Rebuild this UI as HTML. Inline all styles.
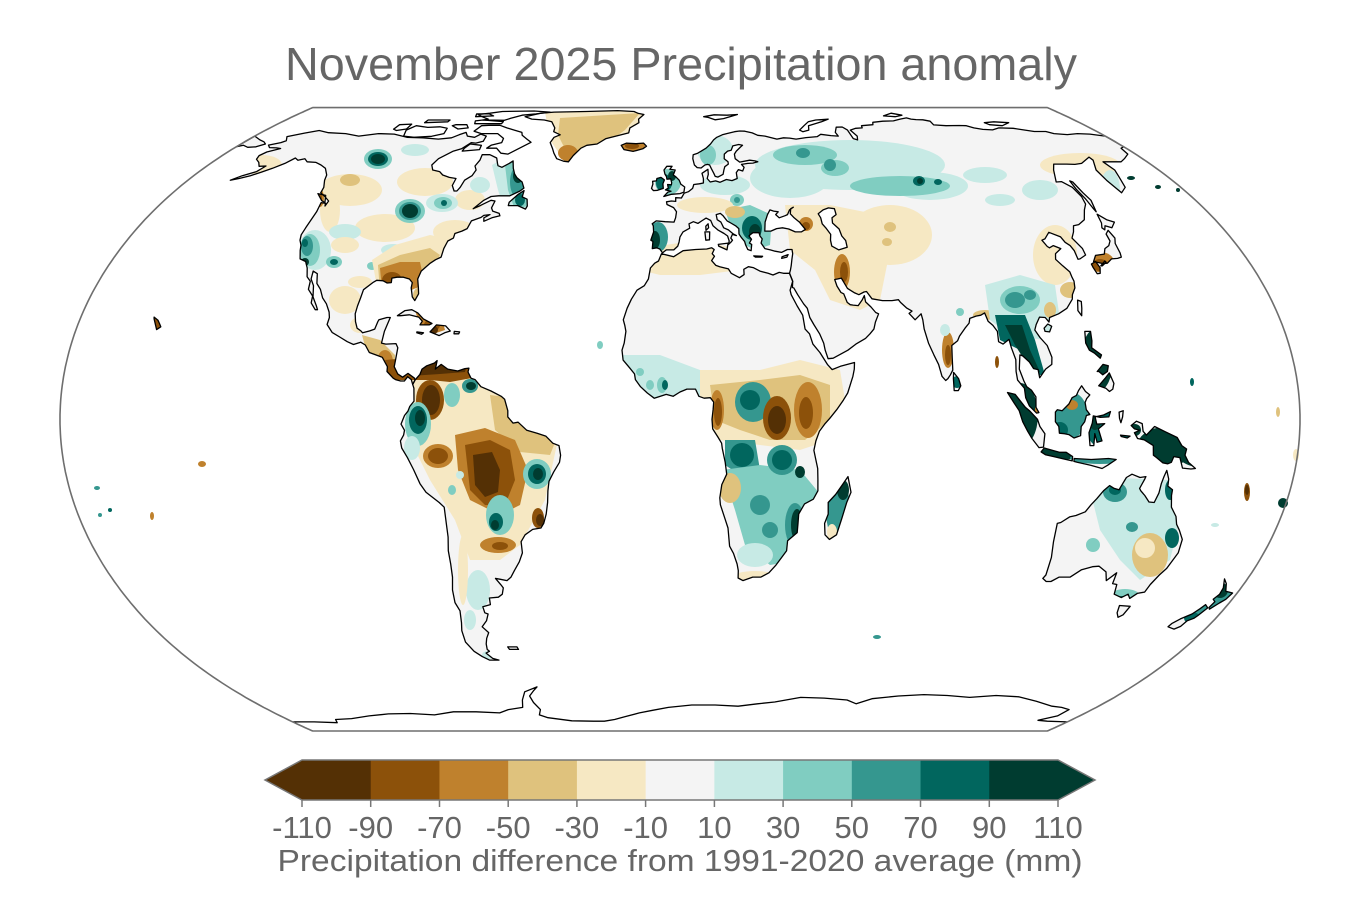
<!DOCTYPE html>
<html><head><meta charset="utf-8">
<style>
html,body{margin:0;padding:0;background:#fff}
svg{display:block}
text{font-family:"Liberation Sans",Arial,sans-serif;fill:#666}
</style></head>
<body>
<svg id="m" xmlns="http://www.w3.org/2000/svg" width="1360" height="900" viewBox="0 0 1360 900">
<defs><clipPath id="lc"></clipPath></defs>
<rect x="0" y="0" width="1360" height="900" fill="#fff"/>
<text x="681" y="80" font-size="46" text-anchor="middle" textLength="792" lengthAdjust="spacingAndGlyphs">November 2025 Precipitation anomaly</text>
<g id="landfill"></g>
<g id="blobs" clip-path="url(#lc)"></g>
<g id="free"></g>
<g id="water"></g>
<g id="coast" fill="none" stroke="#000" stroke-width="1.3" stroke-linejoin="round"></g>
<path id="frame" fill="none" stroke="#6e6e6e" stroke-width="1.6"/>

<!-- colorbar -->
<g id="cbar">
<polygon points="302,760 265,780 302,800" fill="#543005"/>
<polygon points="1058,760 1095,780 1058,800" fill="#003c30"/>
</g>
<g id="cbt"></g>
<text x="680" y="871" font-size="31" text-anchor="middle" textLength="805" lengthAdjust="spacingAndGlyphs">Precipitation difference from 1991-2020 average (mm)</text>
</svg>
<script>
(function(){
var NS='http://www.w3.org/2000/svg';
var A1=1.340264,A2=-0.081106,A3=0.000893,A4=0.003796,M=Math.sqrt(3)/2,K=2*Math.sqrt(3)/3;
var SX=229.07,SY=236.6,CX=680,CY=419.3;
function P(lon,lat){var l=lon*Math.PI/180,t=Math.asin(M*Math.sin(lat*Math.PI/180)),t2=t*t,t6=t2*t2*t2;
var y=t*(A1+A2*t2+t6*(A3+A4*t2));var x=K*l*Math.cos(t)/(A1+3*A2*t2+t6*(7*A3+9*A4*t2));
return [CX+SX*x,CY-SY*y];}
function d(a,close){var s='';for(var i=0;i+1<a.length;i+=2){var p=P(a[i],a[i+1]);s+=(i?'L':'M')+p[0].toFixed(1)+','+p[1].toFixed(1);}return s+(close===false?'':'Z');}
function el(tag,attrs,parent){var e=document.createElementNS(NS,tag);for(var k in attrs)e.setAttribute(k,attrs[k]);parent.appendChild(e);return e;}
var G='#f4f4f4',W='#ffffff';
var LAND=[
[G,[-166,68.8,-161,70.2,-156.5,71.3,-151,70.4,-143,70,-136,69,-129,70,-122,69.8,-115,68.5,-108,68.3,-101,67.8,-96,68.3,-94,69.5,-92,70.5,-90,69,-86.5,68.5,-85,69.8,-82,69,-81.5,67,-84,66.3,-86,66.5,-88,64.3,-90.5,63.5,-94,61,-94.7,59,-93,57.5,-90,57,-88,56,-85,55.3,-82.3,55,-82.2,53,-80.5,51.5,-79.5,51.5,-79,52.5,-78.8,54.5,-77,55.8,-76.7,57.5,-78,58.7,-77.5,60.5,-78,62.3,-75,62.3,-71.5,61.2,-70,59.5,-69.3,58.8,-67.5,58.3,-65.5,59.5,-64.5,60.3,-63,58,-61.5,56.3,-60,55.2,-57.5,54,-56,52.3,-57,51.5,-60,50.2,-64,50.2,-66.5,50,-68.5,49,-71,46.8,-69,47.6,-66,49,-64.5,48.8,-64.8,47,-64,46.2,-61.5,45.6,-61,45,-63.5,44.5,-65.8,43.6,-66.2,44.5,-64.5,45.3,-66.5,45.1,-67.2,44.6,-70,43.7,-70.5,41.8,-72,41.2,-74,40.6,-74,39.5,-75.5,38.8,-76,37,-76,35,-77.5,34.4,-79,33.5,-81,31.8,-81.4,30,-80.5,28,-80,26.7,-80.7,25.2,-81.7,26,-82.7,28,-82.8,29.2,-84,30,-86,30.4,-88,30.4,-89.5,30.2,-89.3,29.2,-90.5,29.1,-92,29.6,-94,29.7,-95,29.2,-97.2,27.6,-97.4,25.8,-97.7,24,-97.8,22.3,-97.2,20.6,-96.3,19.2,-95,18.6,-94.4,18.2,-92.5,18.6,-91,19,-90.5,20.6,-90.3,21,-88,21.5,-87,21.5,-87.5,20,-88,18.5,-88.3,16,-87,15.8,-84,15.9,-83.3,15,-83.5,12.5,-83.7,11,-82.5,9.5,-81,8.8,-79.5,9.6,-77.5,8.6,-77.3,8.2,-77.9,7.3,-78.4,8.3,-79.5,8.9,-80.4,8,-81.5,8,-83,8.3,-83.7,8.6,-85.7,10,-85.7,11,-87.5,13,-89.5,13.5,-91.5,14,-93,15.6,-94.5,16.2,-96.5,15.7,-98.5,16.3,-101,17.3,-103.5,18.3,-105.5,20,-105.3,21.5,-105.8,22.7,-107.3,24.5,-109,25.8,-110.5,27.7,-112.2,29,-113.2,31.2,-114.8,31.8,-114.5,30,-113,28.5,-112,26,-110.3,24.2,-109.5,23.2,-110.2,23.2,-112,24.7,-112.2,26.2,-114.2,27.7,-114.5,29.5,-116,30.5,-117.1,32.5,-118.5,34,-120.6,34.6,-121.9,36.6,-122.5,37.8,-123.7,39,-124.3,40.3,-124.2,42,-124,46,-124.7,48.4,-123,48.2,-122.5,47.5,-122.5,48.8,-125,50,-127.5,51,-128,52.5,-130,54.5,-131,56,-134,58,-137,59,-140,59.8,-143.7,60,-146,61,-148,60.5,-150,61.2,-151.5,59.5,-154,58,-156.5,56.8,-159,55.8,-162,55,-164.5,54.5,-162,55.8,-158.5,57,-157.5,58.7,-160,58.6,-162,59.8,-164.5,60.8,-165.5,62,-164.5,63.2,-161,64.4,-163,64.6,-166,64.7,-168,65.6,-164.5,66.5,-163.5,67.2]],
[G,[-59.3,47.6,-56,47.6,-53,46.7,-52.7,47.5,-53.5,49.3,-55.5,49.9,-55.6,51.6,-57.2,50.6,-59.4,48.5]],
[G,[-128.3,50.8,-125,50.3,-123.4,48.4,-125,48.9]],
[W,[-72,78.5,-66,81,-60,82,-45,82.5,-30,83.5,-22,82.5,-20,81,-17,80,-19,77,-18.5,75,-22,72.5,-22,70.3,-25,69.5,-31,68,-34,66,-38,65.5,-40,64.5,-42,62,-43,60,-45,60.2,-48,61,-50,62.8,-51.5,64.5,-53.5,66.5,-53,68.5,-51,69.5,-54.5,70.8,-55,72.5,-58,75.5,-62,76.5,-68,77]],
[W,[-61.5,66.6,-64,65,-65.5,64,-68,62.5,-71,62.8,-74,64.5,-78,64.5,-77,65.6,-73.5,66.5,-74,68.1,-78,70,-85,70,-89,71,-88,73.5,-85,73.7,-80,73.7,-76,72.5,-72,71.5,-68,70.5,-67,69.3,-64,67.8]],
[W,[-119,71.5,-117,73.5,-111,72.7,-106,73,-102,72.3,-101,70,-105,68.9,-112,68.5,-117,69]],
[W,[-125,71.9,-125,74,-120,74.3,-119.5,72,-123,71.3]],
[W,[-90,76.5,-80,76.3,-78,77.5,-76,78.5,-74,79.5,-68,80.5,-62,82,-70,83,-85,82.5,-90,81,-95,80,-92,78.5,-88,77]],
[W,[-92,74.5,-80,74.5,-80,75.6,-90,76.5,-93,76]],
[W,[-97,72,-101,73.5,-100,74,-95,74,-93,72.5]],
[W,[-115,75,-105,75.5,-105,76.5,-115,76.5]],
[W,[-95,78.5,-87,79,-90,80.5,-96,80.5]],
[G,[-87,63.5,-80.5,64,-81,65.5,-86,66,-87,64.5]],
[G,[-85,21.9,-83,23,-81,23.2,-79,22.5,-77,21.2,-74.2,20.2,-75,19.9,-77.7,19.9,-77.2,20.7,-78.5,21.6,-81.5,22.1,-84,21.9]],
[G,[-74.4,18.4,-72.8,19.9,-70,19.7,-68.4,18.6,-70,18.2,-71.5,17.6]],
[G,[-78.3,18.4,-76.3,18.2,-76.8,17.9,-78.3,18.2]],
[G,[-67.2,18.5,-65.6,18.4,-65.8,18,-67.2,18]],
[G,[-156,18.9,-155,19.5,-155.8,20.3,-156.5,20.9,-158,21.6,-157.8,21.2]],
[G,[-77.3,8.2,-76,9.4,-75.5,10.5,-74.2,11.2,-72,11.8,-71.3,12.3,-71.5,11,-71.6,10.5,-70,11.5,-68,10.5,-65,10.1,-63,10.6,-61.8,10.7,-62,9.9,-61,8.6,-59.8,8.3,-58,6.8,-55,5.9,-52,4.8,-51,4.2,-50,1.8,-50,0.5,-48.5,-0.8,-47,-0.6,-44.5,-2.3,-41.5,-2.9,-39,-3.5,-37,-5,-35.2,-5.5,-34.8,-7.5,-35.2,-9,-37,-11,-38.5,-13,-39,-15,-39.3,-17.5,-40,-20,-41,-22,-42,-23,-44.5,-23.3,-47,-24.5,-48.5,-26,-48.6,-28.5,-50,-30.5,-52,-32.5,-53.5,-34,-55,-34.8,-57,-34.5,-58.5,-34.3,-57.2,-35.8,-56.7,-36.5,-57.5,-38,-59,-38.7,-62,-38.9,-62.3,-40.5,-65,-41,-65,-42.5,-64,-42.8,-65.3,-44.5,-67.5,-46,-66,-47.5,-67.5,-49,-68.5,-50.5,-69,-52,-68.5,-52.5,-70,-53,-68.5,-54.5,-66.5,-55,-70,-55,-72,-54,-74,-52.5,-75.5,-50,-75,-47,-74,-45,-73,-42,-73.7,-40,-73.2,-37,-72,-34,-71.5,-31,-71.3,-28,-70.5,-25,-70.3,-22,-70.2,-18.5,-71.5,-17.5,-75,-15.3,-76.5,-13.5,-78,-10.5,-79.5,-8,-81,-6,-81.3,-4.5,-80.3,-3.3,-80,-2.3,-81,-1,-80,0.8,-79,1.7,-78.5,2.7,-77.3,3.8,-77.5,6.5,-77.9,7.3]],
[G,[-61.3,-51.3,-58,-51.3,-57.8,-52,-61,-52]],
[G,[-5.9,35.8,-2,35.1,1,36.5,5,36.8,8.6,36.9,10.2,37.2,11,36.8,10.3,35.8,11,35.2,10,34.2,11.3,33.1,12.5,32.8,15.2,32.3,16,31.3,18.5,30.3,20,31,20,32.2,21.5,32.8,23,32.6,25,31.8,27.5,31.3,29,30.9,31,31.5,32.3,31.3,34.2,31.3,34.9,29.5,33.8,27.5,34,26.5,35.5,24,36.9,22,37.3,19,38.5,18,39.3,15.8,41.2,14,43.2,11.5,44.5,10.4,47,11.1,51.2,11.9,51,10.5,50.5,9,48.8,5.5,47.5,4,45.5,2,43.5,0.2,42,-1,40.5,-2.5,39.5,-4.5,39,-6.5,39.5,-8,40.3,-10.3,40.5,-12.5,40.7,-15,39.5,-16.8,37,-17.8,35.5,-20,35.5,-22,35.5,-24,32.8,-25.8,32.8,-28,31.5,-29.5,30,-31.2,28,-33,25.6,-34,23,-34,20,-34.8,18.4,-34.2,18.3,-32.5,17.8,-31,16.5,-28.6,15.2,-27,14.5,-23,13.5,-21,12,-18,11.8,-16.5,12.3,-13.7,13.7,-11.5,13.2,-9,12.3,-6.1,12.1,-5,11,-3.7,9.5,-2,9.3,0,9.6,2,9.8,3.6,8.8,4.5,7,4.4,5.5,4.8,4.5,6.3,2,6.3,0,5.7,-2,4.8,-4,5.2,-7.5,4.4,-9.5,5.5,-11.5,6.8,-13,8.3,-13.3,9.5,-14.8,10.8,-16.7,12.4,-17.1,14.5,-16.5,16,-16.1,18.5,-16.5,19.8,-17,21,-16,23.5,-14.8,25.5,-13.2,27.5,-11,28.5,-9.8,30,-9.3,32.5,-8,33.6,-6.8,34.1]],
[G,[49.3,-12,50.5,-15.3,49.5,-17.5,48.5,-21,47.5,-24.5,45.5,-25.5,44,-24.5,43.5,-22,44.3,-20,44,-17.5,46,-15.8,48,-13.5]],
[G,[-5.6,36,-6.5,36.9,-7.5,37.2,-8.9,37,-8.8,38.7,-9.5,39,-8.7,41,-8.9,42.5,-9.3,43,-8,43.7,-5,43.5,-2,43.4,-1.5,44.5,-1.2,46,-2.2,47.1,-4.5,47.9,-4.7,48.6,-3,48.8,-1.5,48.7,-1.5,49.7,0.5,49.6,1.5,50.9,3,51.3,4.5,52.2,5,53.3,7,53.5,8.5,53.7,8.6,55,8.2,56.5,10.5,57.7,10.5,56.2,10,55,11,54,13,54.3,14.5,53.9,17,54.7,19,54.4,21,55,21,56.7,22,57.6,23.5,57.2,24.3,58.3,23.5,59.2,26,59.5,28,59.6,30,60,29,60.3,27,60.5,23,59.9,21.5,61,21.5,62.5,22.5,63.5,24.5,64.9,25.5,65.5,24,65.8,21.5,65.3,20.5,63.8,19,63.5,17.5,62.5,17.2,61,18.5,60,18.5,59.3,17,58.5,16.5,57.5,16,56.2,14,55.4,13,55.6,12.6,56.5,11.8,58,11.3,59,10.5,59.2,9.5,59,8,58.1,6.5,58.2,5.5,59,5,61,5.2,62.3,7,62.8,8.5,63.5,10.5,64.5,12.5,66,14,67.5,15.5,68.5,18,69.5,20,70,23.5,70.8,25.8,71.1,28,71,31,70.3,33,69.3,36,69,40.5,67.8,43.5,68.3,46,68.2,48.5,67.8,53,68.4,58,68.8,60,69.7,64,69.2,67,69,66.8,70.5,68.8,72.8,71.5,72.9,72.8,71.5,72.6,68,74,67.5,75,69,74,71.5,77,72.3,80,72.5,80.5,73.5,86,74,87,75.2,92,75.8,97,76,101,77,104.5,77.7,106,77,108,76.7,111,76.6,113.5,75.8,113,73.9,118,73.5,124,73.6,127,73.5,129,72.5,132,71.8,136,71.6,140,72.5,146,72.3,150,71.5,153,70.9,158,70.9,160,70,165,69.6,170,70,175,69.8,180,69,180,65,178,64.5,177,62.5,173,61,170,60,166,60,163,60,163.5,57.5,162,55.5,160,52.5,156.7,51,156,54.5,156.5,57.5,160,60.5,160,61.5,154,59.5,151,59.2,148,59.3,143,59.3,140.5,57.5,137,54,139,54.1,141,52.5,141.3,50,140.5,48,138.5,46.5,136,44,133,42.8,131,42.5,129.7,41,128,39.5,129.5,37,129.4,35.5,127,34.6,126.3,34.5,126.5,36.5,126,37.7,125,38.5,124.5,39.8,121.5,40.9,119,39.3,117.8,39,118.5,37.5,119,37.2,120.6,37.7,122.5,37,120,35.8,119.2,34.5,120.5,33,121.9,31.6,121.9,30.5,122,29.5,121.5,28,120,26.5,119.5,25.5,117,23.5,114,22.3,111,21.5,110.5,20.5,109.7,21.5,108,21.6,106.5,20,105.7,18.8,106.8,17.2,108.5,15.5,109.3,13,109,11.5,107,10.5,105,8.7,104.8,10.4,103.5,10.6,102.5,12,100.8,13.3,100,13.5,99.3,10.5,100.3,8,101,6.8,102.3,6.1,103.5,4.7,103.4,2.5,104.2,1.4,103.5,1.3,101.5,2.8,100.5,4.5,100.3,6.5,98.5,8.2,98.3,10,98.6,12.5,97.8,15,97.5,16.8,95.5,15.8,94.3,16.3,94.5,18.5,93.5,19.8,92.3,20.7,91.8,22.5,90.5,22,89,21.8,87,21.3,86.5,20.3,85,19.2,83,17.5,82.2,16.5,80.3,15.5,80,13,79.8,10.3,79,9.3,78.2,8.5,77.5,8.1,76.5,9,75.8,11.5,74.7,13.5,73.5,16,72.8,19,72.8,21,72.6,22.3,70.5,21,69,22.4,70,22.9,68.5,23.6,67,24.8,66.5,25.4,64.5,25.2,61.6,25.2,58.5,25.6,57.2,27.2,56.4,27.1,54.7,26.5,53.5,26.9,51.5,27.9,50.1,30.2,48.9,30,48,29.9,48.4,28.4,49.3,27,50.1,26.7,50.8,24.8,51.6,24.3,52.5,24.2,54,24.1,55.5,25.4,56.3,26.3,56.4,24.9,57.8,23.8,59,22.6,59.8,22.3,58.5,20.5,57.8,19,56.5,18,55,17,52,15.8,49.5,14.5,45,12.8,43.5,12.7,42.8,14.5,42.5,16,41.5,18,40,20,39,21.5,38.5,23.5,37.5,24.5,36,26.5,35,28,34.6,28.1,34.9,29.5,34.2,31.3,34.6,32,35,33,35.5,34.5,36,35.8,36,36.8,34.5,36.8,32.5,36.1,30.5,36.4,29,36.7,27.3,37,26.3,38.3,26.8,39.3,26.2,40,26,40.8,24,40.8,23,40.3,22.6,40,23.3,39.2,22.5,38.3,23.2,38,22.8,36.5,21.8,36.8,21.2,37.9,21,38.7,20,39.7,19.4,40.5,19.5,41.8,18.5,42.5,17,43.2,15.8,43.7,14.6,45,13.7,45.6,12.3,45.3,12.5,44,13.7,43.4,14.5,42,16,41.5,17.5,40.5,18.5,40.1,17.2,40.4,16.6,39.5,17.1,39,16.5,38.5,15.7,38,16,38.8,15.6,40,14.5,40.6,12.5,41.5,11,42.5,10.3,43.8,8.8,44.4,7.5,43.8,6,43.1,4.5,43.5,3,43,3.2,41.9,1,41,0,39.8,-0.3,38.6,-0.7,37.6,-2,36.7,-4.4,36.7]],
[G,[-180,69,-175,67.5,-172,66.8,-170,66,-172,65,-175,64.8,-178,65.5,-180,65]],
[G,[-5.7,50,-3,50.6,0,50.8,1.4,51.2,1.7,52.6,0.3,53.4,-0.3,54.5,-1.6,55.5,-2.5,56,-1.8,57.5,-3.8,57.7,-3,58.6,-5,58.6,-6,57.5,-5.6,56.3,-5,55.5,-4.8,54.8,-3.4,54.9,-3,53.8,-3.1,53.2,-4.5,53.3,-4.2,52.3,-5.2,51.8,-3.2,51.4,-4.3,51.2]],
[G,[-6,52.2,-6.2,53.5,-5.7,54.6,-7,55.3,-8.5,55,-8.6,54.3,-10,54.2,-9.8,53.4,-10.2,52.2,-9.5,51.6,-8,51.7]],
[G,[-22.5,64,-24,65.5,-22,66.3,-18,66.1,-15,66.3,-13.6,65.2,-15,64.3,-18.7,63.4]],
[W,[11,78.5,16,79.8,22,79.5,27,80,20,77.3,16,76.6,13,78]],
[W,[52,71.5,55,73.5,58,75.5,62,76.5,68,77,64,75.5,57,73.5,56,71.5,53,70.8]],
[W,[95,79,100,81,104,79.5,100,78.5]],
[W,[137,75,142,75.5,148,75,143,73.5,138,74]],
[G,[12.4,38,15.6,38.3,15.1,36.7,12.5,37.6]],
[G,[8.4,39,9.6,39.1,9.8,41,8.2,41]],
[G,[8.6,41.4,9.5,42,9.4,43,8.6,42.4]],
[G,[23.5,35.3,26.3,35.2,26,35,24,35]],
[G,[32.3,34.7,34,35,34.5,35.6,32.5,35.1]],
[G,[142,46,143.5,49,143,51,143,54,142.3,54.3,141.8,52,142,49.5,141.9,47]],
[G,[130.9,34,132.5,35.4,135.5,35.7,136.7,37,138.5,37.7,139.8,38.8,140,40.5,141.5,41.4,142,39.5,141,38.2,140.8,36,140.4,35,139,34.7,137,34.6,135,33.6,133.5,33.5,131.8,33.8]],
[G,[129.8,33.4,131.5,34,132,32.6,131.2,31.3,130.2,31.2,129.8,32.7]],
[G,[140,42,141,43.2,141.7,45.4,143.5,44,145.5,43.4,143.3,42,141.5,42.5,140.5,41.5]],
[G,[132.5,33,134.5,34.1,134.7,33.8,133,33]],
[G,[120.1,23,121,25.3,122,25,121.5,23.5,120.8,21.9]],
[G,[108.6,19.2,110,20.1,111,19.6,110,18.4,108.7,18.5]],
[G,[79.8,6,79.8,8.5,80,9.8,81.3,8.5,81.8,7,81,6]],
[G,[120.5,18.5,122.2,18.5,122,16.5,121.5,15,124,13.5,123.5,12.8,122,13.9,120.7,14.5,120,16]],
[G,[122,7,124,8.5,125.5,9.7,126.5,7.5,126,6.3,125,5.8,124,6.5]],
[G,[122,10,124,11.5,125.5,11.2,125,10,123.5,9.3,122.5,10]],
[G,[109,1.5,109.6,2,111,1.8,113,3.2,114,4.5,115.3,5,116,6,117,7,118,5.8,119.2,5.1,118.2,4.3,117.7,3.5,118,2,119,1,118,0.8,117.5,-0.5,116.5,-1.5,116.4,-3.4,114.5,-3.9,113,-3.2,111.7,-3,110.2,-2.9,110,-1.5,109,-0.5]],
[G,[95.3,5.6,97.5,5.2,100.3,2.5,101.5,1.8,103.8,0,104.5,-1.5,106,-3,105.8,-5.8,104.5,-5.9,102.3,-4,101,-2.5,99.5,-0.5,98.5,1.8,97,3.5]],
[G,[105.2,-6.8,106,-6,108.5,-6.5,110.5,-6.9,112.5,-6.9,114.5,-7.8,114.5,-8.7,112,-8.3,109,-7.8,106.5,-7.4]],
[G,[115,-8.2,120,-8.4,125,-8.2,127.3,-8.4,125,-9.6,123.5,-10.3,120,-9.6,116,-9,115,-8.8]],
[G,[119.3,-5.5,120.4,-5.5,120.5,-3,121.3,-4.8,122.7,-4.5,121.5,-2,123.3,-0.9,121,-1,120.5,0.5,123,0.9,125,1.6,124.5,0.5,122,0.4,120,0.7,119.7,-0.8,118.8,-2.8]],
[G,[131,-1.3,132.5,-0.4,134.2,-0.9,134.5,-2.5,135.5,-3.3,137.8,-1.5,141,-2.6,144.5,-3.8,146,-5.5,147.5,-6.2,147.2,-7.5,148.5,-9,150.8,-10.3,149.5,-10.4,147,-10.2,145.8,-8,144,-7.8,143.5,-9,142.5,-9.3,141,-9.1,139,-8,138,-7.5,137.7,-5.5,135,-4.3,133,-4,132,-2.8,133.5,-2.3,132,-2]],
[G,[128,-3.3,130.8,-3.5,130,-3.9,128.2,-3.6]],
[G,[127.5,1.5,128.7,1.8,128.5,0.5,128,-0.7,127.6,0.2]],
[G,[113.5,-22,114,-26,115,-29.5,115.5,-33.5,115,-34.3,116.5,-35,118,-35,120,-34,123.5,-34,126,-32.3,129,-31.6,131,-31.5,134,-32.8,135.5,-34.8,137.5,-33,138,-35.5,139.5,-35.7,140.5,-38,143.5,-38.8,145,-38,146.4,-39,147.8,-37.8,149.9,-37.5,150.2,-35.7,151.3,-33.5,152.5,-32,153.6,-28.5,153,-25.5,151,-23.5,149.5,-22.2,148.5,-20.5,146.3,-18.5,145.4,-16,145.3,-14.8,143.7,-14,143.5,-12.5,142.5,-10.7,142,-12,141.6,-13.5,141.5,-15.5,140.8,-17.5,139.2,-17.4,137.5,-16,136,-15,135.5,-14.5,136.5,-12.5,136.7,-12,135,-12.2,132.5,-11.5,131,-12.2,129.5,-14.8,128,-14.5,126.5,-13.9,125,-15,123.5,-16.7,122.2,-18,121,-19.5,118.5,-20.3,116.7,-20.6,114.5,-21.8]],
[G,[144.6,-40.7,148.3,-40.9,148,-43,146.9,-43.6,145.5,-42.5]],
[G,[172.7,-34.4,174.3,-35.5,175.9,-37.3,178.5,-37.7,177.9,-39.2,176.8,-40.1,175.2,-41.6,174.6,-41.2,175,-39.8,173.8,-39.2,174.6,-38,174.3,-36.5]],
[G,[172.7,-40.5,174.3,-41.3,173.2,-43.2,172.7,-43.8,171.2,-44.5,170.7,-45.9,169.3,-46.6,166.5,-46,166.8,-45.2,168.3,-44,170.8,-42.8,172,-41.5]]
];
var WATER=[
[28,41.2,28.5,43.4,29.7,45.3,30.8,46.5,32,46.2,33.5,46,32.5,45.3,33.5,44.5,35.5,45,36.5,45.3,37.5,46.5,39,47.2,38,46.8,37.5,45.5,38.5,44.5,40,43.4,41.5,41.6,40,41,38,41,36,41.7,34,42,32,41.8,30,41.2],
[49,46.5,51,47,53,46.8,53,45.3,51.3,44.5,51,43.2,52.7,41.7,53,40,53.9,38.9,53.9,37.3,51,36.7,49,37.6,49,39,49.5,40.4,48.5,41.8,47.5,43,47.5,44.5,47,45.5]
];
var ANT=[-180,-78.5,-170,-78.5,-160,-79,-158,-77,-150,-76.5,-140,-75,-130,-74,-120,-73.8,-110,-74.5,-100,-73,-90,-73,-80,-73.5,-75,-72,-68,-71,-66,-68,-63,-65,-57,-63.3,-59,-64.5,-62,-66.5,-62,-69,-61,-72,-63,-74.5,-60,-76,-50,-77.8,-40,-78,-35,-78,-30,-77,-25,-75.5,-18,-73.5,-12,-72.3,-5,-71,5,-70,15,-70,25,-70.5,33,-69.5,40,-68.8,50,-67,60,-67.3,70,-68,75,-69.5,80,-67.5,90,-66.5,100,-66,110,-66.3,120,-67,130,-66.3,140,-66.8,150,-68.5,160,-70.5,165,-71,170,-72,170,-75,165,-77.5,170,-78,180,-78.5];

var lf=document.getElementById('landfill'),lc=document.getElementById('lc'),co=document.getElementById('coast'),wa=document.getElementById('water');
LAND.forEach(function(L){var D=d(L[1]);el('path',{d:D,fill:L[0]},lf);el('path',{d:D},lc);el('path',{d:D},co);});
WATER.forEach(function(a){var D=d(a);el('path',{d:D,fill:'#fff'},wa);el('path',{d:D},co);});
el('path',{d:d(ANT,false)},co);
var fa=[];for(var la=90;la>=-90;la-=1){fa.push(-180,la);}for(la=-90;la<=90;la+=1){fa.push(180,la);}
document.getElementById('frame').setAttribute('d',d(fa));

var C={t1:'#c7eae5',t2:'#80cdc1',t3:'#35978f',t4:'#01665e',t5:'#003c30',b1:'#f6e8c3',b2:'#dfc27d',b3:'#bf812d',b4:'#8c510a',b5:'#543005'};
var B=[
// Greenland / Iceland
['p','545,112 650,110 640,128 610,145 585,162 565,162 550,140','b1'],
['p','560,118 640,113 625,130 600,148 580,160 568,155 558,135','b2'],
['e',568,153,10,8,'b3'],
['e',633,146,12,6,'b3'],['e',632,146,7,3,'b4'],
// Alaska / Canada
['e',262,165,20,10,'b1'],
['e',350,190,32,16,'b1'],['e',425,182,28,14,'b1'],['e',385,228,30,14,'b1'],['e',455,232,22,12,'b1'],['e',330,210,10,22,'b1'],['e',470,200,15,10,'b1'],
['e',350,180,10,6,'b2'],
['e',415,150,14,6,'t1'],['e',345,232,16,8,'t1'],['e',393,250,12,6,'t1'],['e',480,185,10,8,'t1'],['e',505,240,8,6,'t1'],
['e',378,159,14,10,'t2'],['e',378,159,10,7,'t4'],['e',378,159,7,5,'t5'],
['e',410,211,15,12,'t2'],['e',410,211,11,9,'t3'],['e',410,211,8,7,'t5'],
['e',442,203,16,9,'t1'],['e',443,203,9,6,'t2'],['e',444,203,3,3,'t4'],
['p','492,165 515,152 532,165 535,190 528,215 505,212 498,190','t1'],
['p','505,165 520,158 530,170 530,205 515,210 508,190','t2'],
['e',518,182,8,16,'t3'],['e',518,176,5,7,'t5'],['e',520,200,5,6,'t4'],
// US
['e',315,250,16,20,'t1'],['e',310,250,10,16,'t2'],['e',307,246,6,10,'t3'],['e',305,262,4,4,'t5'],['e',305,243,3,4,'t4'],
['e',320,198,4,9,'b3'],['e',320,198,2,5,'b4'],
['e',345,245,14,8,'b1'],['e',334,262,8,6,'t2'],['e',334,262,4,3,'t4'],['e',372,266,5,4,'t2'],['e',425,244,6,5,'t2'],['e',360,282,12,6,'b1'],
['p','372,260 395,245 430,235 455,240 440,265 425,285 400,292 378,292','b1'],
['p','378,265 400,255 430,248 440,255 425,280 410,292 380,292','b2'],
['p','380,268 400,262 420,262 425,285 405,292 382,292','b3'],
['e',392,280,10,8,'b4'],
['e',418,296,5,8,'b2'],
['e',345,300,16,14,'b1'],['e',360,325,10,8,'b1'],
['p','415,310 430,300 440,312 445,330 430,335 418,320','b3'],['e',432,325,8,6,'b4'],['e',433,330,5,4,'b5'],
['p','362,335 380,340 395,355 395,375 385,380 370,365','b2'],['e',385,362,8,12,'b3'],['e',387,370,5,7,'b4'],
['e',156,323,5,6,'b4'],
// South America
['p','395,360 475,358 520,385 560,430 545,500 520,545 500,560 470,560 455,520 430,480 410,440 405,400','b1'],
['p','385,360 420,357 470,360 472,378 450,382 430,380 410,380 392,380','b4'],
['p','395,362 440,360 468,362 465,372 440,374 410,376','b5'],
['e',430,400,14,20,'b4'],['e',431,400,9,15,'b5'],
['e',452,395,8,12,'t2'],
['e',470,386,8,7,'t3'],['e',471,386,5,4,'t5'],
['e',418,424,13,22,'t2'],['e',418,420,9,14,'t4'],['e',420,418,5,8,'t5'],
['e',412,448,8,12,'t1'],
['p','490,395 530,400 560,430 550,455 520,452 495,430','b2'],
['p','455,435 485,428 515,440 528,470 520,505 500,515 470,500 458,470','b3'],
['p','465,445 490,440 510,450 515,480 505,505 485,505 470,490','b4'],
['p','473,455 492,452 500,470 498,492 485,497 475,485','b5'],
['e',438,456,15,12,'b3'],['e',438,456,10,8,'b4'],
['e',537,474,14,15,'t2'],['e',537,474,9,10,'t4'],['e',538,474,5,6,'t5'],
['e',500,515,14,20,'t2'],['e',496,522,7,9,'t4'],['e',495,525,4,5,'t5'],
['e',538,518,6,10,'b4'],['e',540,520,4,6,'b5'],
['e',498,545,18,8,'b3'],['e',500,546,8,4,'b4'],
['e',478,590,12,20,'t1'],['e',470,620,6,10,'t1'],
['e',463,570,5,35,'b1'],
['e',460,475,4,4,'t1'],['e',452,490,4,5,'t2'],
['e',488,655,6,4,'t1'],
// Africa
['p','630,250 700,240 760,255 740,270 700,275 660,275 640,270','b1'],
['p','622,355 660,355 700,370 705,395 680,400 640,398 625,380','t1'],
['e',662,385,5,8,'t2'],['e',665,385,3,5,'t4'],['e',650,385,4,5,'t2'],['e',640,372,4,4,'t2'],
['p','700,370 760,370 800,360 840,370 845,400 830,440 800,450 760,445 720,440 700,410','b1'],
['p','710,385 760,380 800,375 830,385 830,420 805,440 770,440 740,430 715,420','b2'],
['e',717,410,7,20,'b3'],['e',718,412,4,14,'b4'],
['e',753,402,18,20,'t3'],['e',750,400,10,10,'t4'],
['e',777,418,14,22,'b4'],['e',777,420,9,14,'b5'],
['e',808,410,14,28,'b3'],['e',806,413,7,16,'b4'],
['p','725,440 755,440 760,470 740,475 725,465','t3'],['e',742,455,12,12,'t4'],
['p','722,470 760,465 800,470 825,500 820,540 800,560 770,565 745,545 735,510','t2'],
['e',782,460,15,15,'t3'],['e',782,460,10,10,'t4'],
['e',730,488,11,15,'b2'],
['e',760,505,10,10,'t3'],['e',795,525,10,22,'t3'],['e',797,525,6,16,'t5'],['e',800,472,5,6,'t5'],['e',770,530,8,8,'t3'],
['e',755,555,18,12,'t1'],
['e',755,577,22,6,'b1'],
['e',838,510,12,32,'t3'],['e',843,490,6,10,'t5'],['e',832,532,5,8,'b1'],
// Europe / Russia
['e',850,165,95,25,'t1'],['e',790,178,40,20,'t1'],['e',930,186,38,14,'t1'],['e',985,175,22,8,'t1'],['e',1040,190,18,10,'t1'],['e',725,185,25,10,'t1'],['e',1000,200,15,6,'t1'],
['e',805,155,32,10,'t2'],['e',835,168,14,8,'t2'],['e',900,186,50,10,'t2'],
['e',803,153,7,5,'t3'],['e',830,165,6,6,'t3'],['e',919,181,6,5,'t4'],['e',920,181,3,3,'t5'],['e',938,182,4,3,'t4'],
['e',737,200,7,6,'t2'],['e',737,200,3,3,'t3'],
['e',1080,165,40,12,'b1'],['e',1110,190,10,20,'t1'],
['e',668,182,13,13,'t2'],['e',664,183,8,9,'t4'],['e',672,176,4,5,'t5'],
['e',715,150,18,15,'t1'],['e',708,155,8,10,'t2'],
['e',658,237,10,15,'t3'],['e',655,240,5,9,'t5'],
['p','725,210 750,205 772,215 770,245 755,250 735,240','t2'],['e',752,228,10,12,'t4'],['e',755,232,6,8,'t5'],
['e',705,205,28,8,'b1'],['e',735,212,10,6,'b2'],
['p','785,205 830,205 880,215 890,250 880,300 860,310 830,300 815,270 790,250','b1'],
['e',806,224,7,7,'b3'],['e',806,226,4,4,'b4'],
['e',842,272,8,18,'b3'],['e',844,272,4,10,'b4'],
['e',890,235,42,30,'b1'],['e',890,227,6,5,'b2'],['e',887,242,5,4,'b2'],
['e',1055,255,22,30,'b1'],['e',1070,290,10,8,'b2'],
['e',1100,262,14,10,'b3'],['e',1100,265,8,6,'b4'],
// South / SE Asia
['e',985,315,12,5,'b2'],
['p','985,285 1020,275 1055,285 1060,320 1045,340 1010,335 990,320','t1'],
['e',1020,300,20,14,'t2'],['e',1015,300,10,8,'t3'],['e',1030,295,6,5,'t3'],
['p','995,315 1025,315 1035,340 1045,375 1035,375 1020,350 1000,340','t4'],
['p','1005,325 1022,325 1030,350 1040,372 1032,372 1015,345','t5'],
['e',948,350,6,18,'b3'],['e',948,355,3,10,'b4'],
['e',960,312,4,4,'t2'],['e',945,330,5,6,'t1'],['e',957,382,5,6,'t4'],
['e',1050,310,6,8,'b2'],
['e',1097,360,16,32,'t5'],
['e',1020,415,18,32,'t5'],
['e',1040,410,5,8,'b3'],['e',1053,427,4,6,'b4'],
['e',1068,415,20,24,'t3'],['e',1072,405,6,5,'b3'],['e',1060,430,8,8,'t4'],
['e',1060,453,20,7,'t5'],['e',1100,458,30,6,'t3'],
['e',1100,425,14,22,'t4'],['e',1095,420,6,10,'t5'],
['e',1165,447,28,20,'t5'],['e',1205,450,30,18,'t5'],['e',1125,440,8,8,'t4'],['e',1135,430,6,6,'t5'],
// Australia / NZ
['p','1090,490 1120,478 1170,480 1180,520 1170,560 1140,580 1120,560 1100,530','t1'],
['e',1115,492,12,10,'t3'],['e',1115,490,6,5,'t4'],
['e',1170,490,5,10,'t4'],
['e',1172,538,7,10,'t4'],
['e',1150,555,18,22,'b2'],['e',1145,548,10,10,'b1'],
['e',1093,545,7,7,'t2'],['e',1132,527,6,5,'t3'],
['e',1125,595,14,6,'t2'],['e',1122,600,8,4,'t4'],
['e',1210,605,30,20,'t3'],['e',1220,590,8,8,'t5'],['e',1192,618,8,6,'t4']
];
var bl=document.getElementById('blobs'),fr=document.getElementById('free');
function draw(list,g){list.forEach(function(b){if(b[0]==='e')el('ellipse',{cx:b[1],cy:b[2],rx:b[3],ry:b[4],fill:C[b[5]]},g);else el('polygon',{points:b[1],fill:C[b[2]]},g);});}
draw(B,bl);
draw([
['e',1247,492,3,9,'b4'],['e',1247,490,2,5,'b5'],['e',1283,503,5,5,'t5'],['e',1278,412,2,5,'b2'],['e',1296,455,3,6,'b1'],
['e',1192,382,2,4,'t4'],['e',202,464,4,3,'b3'],['e',152,516,2,4,'b3'],['e',97,488,3,2,'t3'],['e',110,510,2,2,'t4'],['e',100,515,2,2,'t3'],
['e',600,345,3,4,'t2'],['e',877,637,4,2,'t3'],['e',1131,178,4,2,'t5'],['e',1158,187,3,2,'t5'],['e',1178,190,2,2,'t5'],['e',997,362,2,6,'b4'],['e',1215,525,4,2,'t1']
],fr);

var cols=['#543005','#8c510a','#bf812d','#dfc27d','#f6e8c3','#f4f4f4','#c7eae5','#80cdc1','#35978f','#01665e','#003c30'];
var labs=['-110','-90','-70','-50','-30','-10','10','30','50','70','90','110'];
var cb=document.getElementById('cbar'),ct=document.getElementById('cbt');
var w=(1058-302)/11;
for(var i=0;i<11;i++){el('rect',{x:(302+i*w).toFixed(2),y:760,width:(w+0.6).toFixed(2),height:40,fill:cols[i]},cb);}
el('path',{d:'M302,760L1058,760L1095,780L1058,800L302,800L265,780Z',fill:'none',stroke:'#777','stroke-width':1.5},cb);
for(i=0;i<12;i++){var x=302+i*w;el('line',{x1:x.toFixed(1),y1:800,x2:x.toFixed(1),y2:807,stroke:'#777','stroke-width':1.5},ct);
var t=el('text',{x:x.toFixed(1),y:838,'font-size':31,'text-anchor':'middle'},ct);t.textContent=labs[i];}
})();
</script>
</body></html>
